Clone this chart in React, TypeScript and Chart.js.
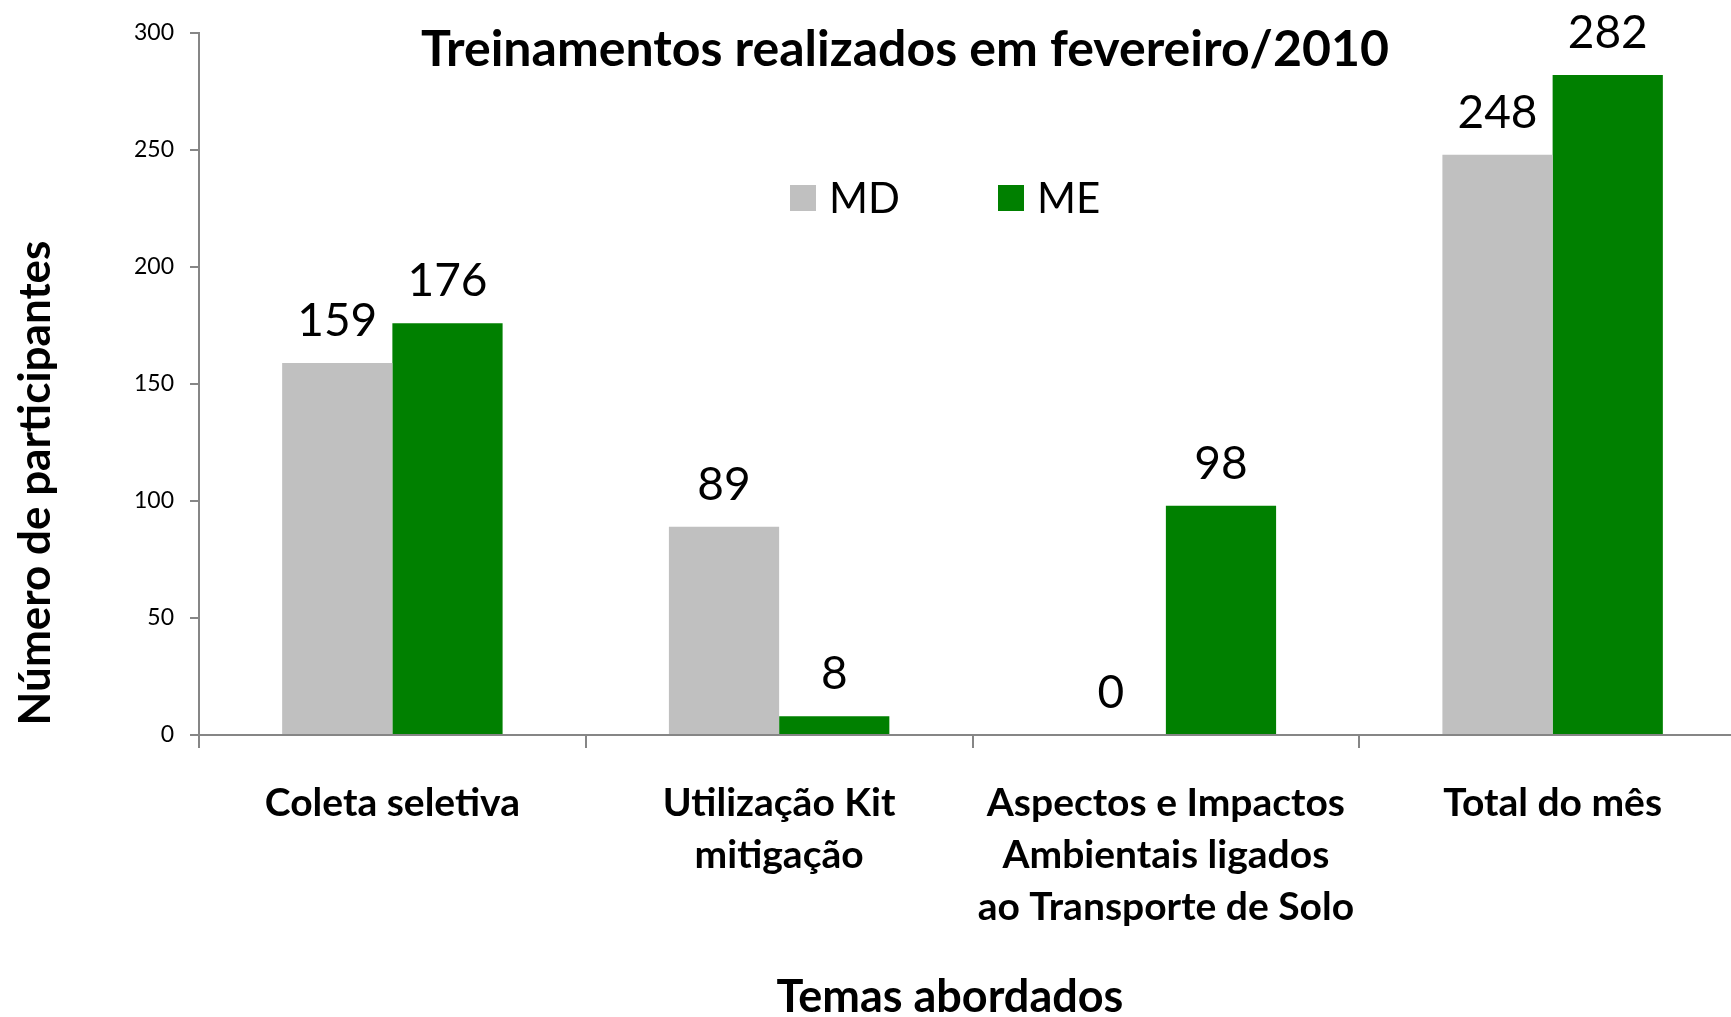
import React, { useEffect, useRef } from "react";
import { Chart, registerables } from "chart.js";

Chart.register(...registerables);

const categories: string[][] = [
  ["Coleta seletiva"],
  ["Utilização Kit", "mitigação"],
  ["Aspectos e Impactos", "Ambientais ligados", "ao Transporte de Solo"],
  ["Total do mês"],
];
const seriesNames = ["MD", "ME"];
const mdValues = [159, 89, 0, 248];
const meValues = [176, 8, 98, 282];
const seriesColors = ["#C0C0C0", "#008000"];
const titleText = "Treinamentos realizados em fevereiro/2010";
const yAxisTitle = "Número de participantes";
const xAxisTitle = "Temas abordados";
const yMin = 0;
const yMax = 300;
const yStep = 50;

const FONT = "Lato";

const overlay = {
  id: "overlay",
  afterDatasetsDraw(chart: any) {
    const ctx: CanvasRenderingContext2D = chart.ctx;
    ctx.save();
    ctx.fillStyle = "#000";
    ctx.textAlign = "center";
    ctx.textBaseline = "middle";
    // data labels
    ctx.font = `46px ${FONT}`;
    chart.data.datasets.forEach((ds: any, i: number) => {
      const meta = chart.getDatasetMeta(i);
      meta.data.forEach((bar: any, j: number) => {
        ctx.fillText(String(ds.data[j]), bar.x, bar.y - 42);
      });
    });
    // title
    ctx.font = `bold 50px ${FONT}`;
    ctx.fillText(titleText, 905, 50);
    // legend
    const legendX = [790, 998];
    ctx.font = `42px ${FONT}`;
    ctx.textAlign = "left";
    chart.data.datasets.forEach((ds: any, i: number) => {
      ctx.fillStyle = ds.backgroundColor;
      ctx.fillRect(legendX[i], 185, 26, 26);
      ctx.fillStyle = "#000";
      ctx.fillText(ds.label, legendX[i] + 39, 199);
    });
    // axis titles
    ctx.textAlign = "center";
    ctx.font = `bold 44px ${FONT}`;
    ctx.save();
    ctx.translate(36, 483);
    ctx.rotate(-Math.PI / 2);
    ctx.fillText(yAxisTitle, 0, 0);
    ctx.restore();
    ctx.font = `bold 45px ${FONT}`;
    ctx.fillText(xAxisTitle, 950, 997);
    ctx.restore();
  },
};

export default function App() {
  const ref = useRef<HTMLCanvasElement>(null);
  useEffect(() => {
    if (!ref.current) return;
    const chart = new Chart(ref.current, {
      type: "bar",
      data: {
        labels: categories,
        datasets: [
          {
            label: seriesNames[0],
            data: mdValues,
            backgroundColor: seriesColors[0],
            barPercentage: 1,
            categoryPercentage: 0.57,
          },
          {
            label: seriesNames[1],
            data: meValues,
            backgroundColor: seriesColors[1],
            barPercentage: 1,
            categoryPercentage: 0.57,
          },
        ],
      },
      options: {
        responsive: false,
        animation: false,
        devicePixelRatio: 1,
        layout: { padding: { top: 33, right: 14, left: 0, bottom: 0 } },
        plugins: {
          legend: { display: false },
          title: { display: false },
          tooltip: { enabled: false },
        },
        scales: {
          x: {
            grid: {
              display: true,
              drawOnChartArea: false,
              drawTicks: true,
              tickLength: 13,
              color: "#868686",
              lineWidth: 2,
              offset: true,
            },
            border: { display: true, color: "#868686", width: 2 },
            ticks: {
              color: "#000",
              font: { family: FONT, size: 39, weight: "bold", lineHeight: 52 / 39 },
              padding: 29,
              maxRotation: 0,
              autoSkip: false,
            },
            afterFit: (s: any) => {
              s.height = 282;
            },
          },
          y: {
            min: yMin,
            max: yMax,
            grid: {
              drawOnChartArea: false,
              tickLength: 9,
              color: "#868686",
              lineWidth: 2,
            },
            border: { color: "#868686", width: 2 },
            ticks: {
              stepSize: yStep,
              color: "#000",
              font: { family: FONT, size: 23 },
              padding: 16,
            },
            afterFit: (s: any) => {
              s.width = 199;
            },
          },
        },
      },
      plugins: [overlay],
    });
    return () => chart.destroy();
  }, []);
  return (
    <div
      style={{
        position: "fixed",
        left: 0,
        top: 0,
        width: 1731,
        height: 1017,
        overflow: "hidden",
        background: "#fff",
      }}
    >
      <canvas ref={ref} width={1760} height={1017} style={{ display: "block" }} />
    </div>
  );
}
